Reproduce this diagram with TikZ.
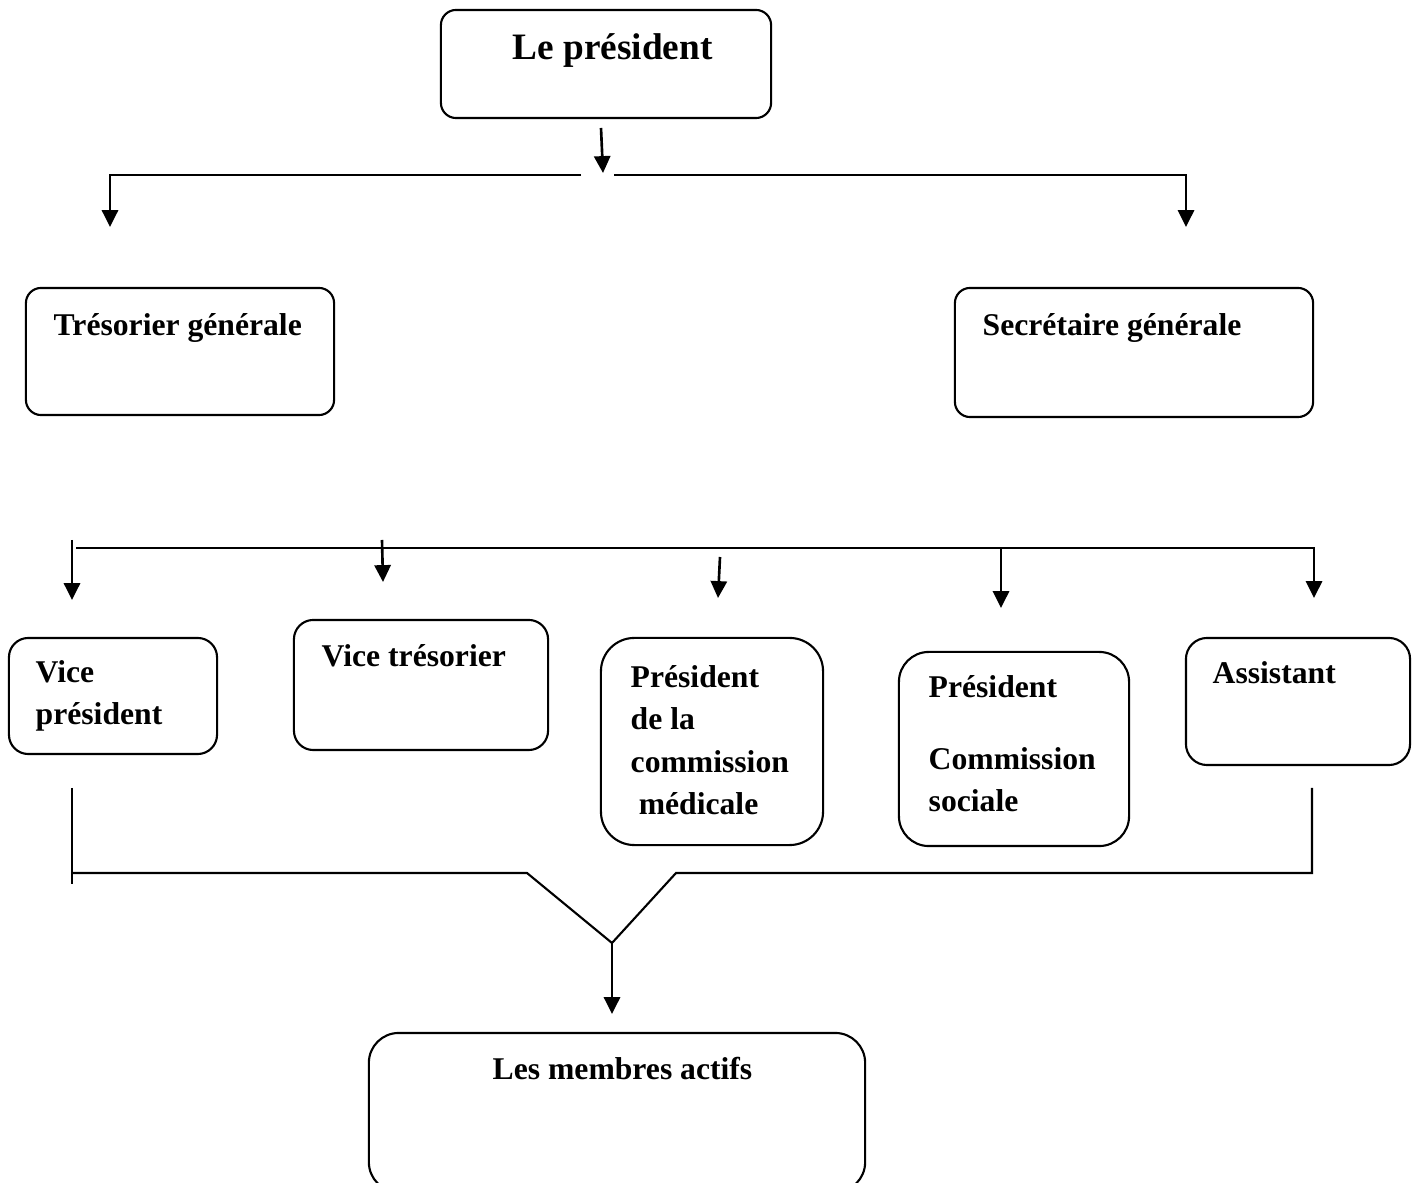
\documentclass[tikz,border=0pt]{standalone}
\usepackage{fontspec}
\setmainfont{Liberation Serif}
\usetikzlibrary{arrows.meta}

\begin{document}
\begin{tikzpicture}[x=0.01cm,y=-0.01cm,
  box/.style={draw,line width=0.6pt,rounded corners=#1,inner sep=0pt},
  lbl/.style={anchor=base west,inner sep=0pt,align=left,font=\fontsize{9}{12.1}\selectfont\bfseries},
  ln/.style={line width=0.6pt},
  arr/.style={line width=0.75pt,-{Triangle[length=4.8pt,width=4.6pt]}}]
\useasboundingbox (0,0) rectangle (1421,1183);
% boxes
\node[box=4.3pt,minimum width=3.30cm,minimum height=1.08cm] (pres) at (606,64) {};
\node[box=4.3pt,minimum width=3.08cm,minimum height=1.27cm] (tres) at (180,351.5) {};
\node[box=4.3pt,minimum width=3.58cm,minimum height=1.29cm] (secr) at (1134,352.5) {};
\node[box=5.5pt,minimum width=2.08cm,minimum height=1.16cm] (vpres) at (113,696) {};
\node[box=5.5pt,minimum width=2.54cm,minimum height=1.30cm] (vtres) at (421,685) {};
\node[box=9.5pt,minimum width=2.22cm,minimum height=2.07cm] (pmed) at (712,741.5) {};
\node[box=8.5pt,minimum width=2.30cm,minimum height=1.94cm] (psoc) at (1014,749) {};
\node[box=6pt,minimum width=2.24cm,minimum height=1.27cm] (assist) at (1298,701.5) {};
\node[box=8.5pt,minimum width=4.96cm,minimum height=1.59cm] (membres) at (617,1112.5) {};
% texts (multi-line ones sit on their last baseline)
\node[lbl,font=\fontsize{10.6}{13}\selectfont\bfseries] (presT) at (512,60) {Le président};
\node[lbl] (tresT) at (53,336) {Trésorier générale};
\node[lbl] (secrT) at (982,336) {Secrétaire générale};
\node[lbl] (vpresT) at (35,725) {Vice\\président};
\node[lbl] (vtresT) at (321,667) {Vice trésorier};
\node[lbl] (pmedT) at (630,815) {Président\\de la\\commission\\\hspace*{2.3pt}médicale};
\node[lbl] (psocT) at (928,812) {Président\\[8.5pt]Commission\\sociale};
\node[lbl] (assistT) at (1212,684) {Assistant};
\node[lbl] (membresT) at (492,1080) {Les membres actifs};
% first level
\coordinate (p0) at (601,128);
\coordinate (p1) at (603,173);
\coordinate (hL) at (581,175);
\coordinate (hR) at (614,175);
\coordinate (tresA) at (110,227);
\coordinate (secrA) at (1186,227);
\draw[arr] (p0) -- (p1);
\draw[arr] (hL) -| (tresA);
\draw[arr] (hR) -| (secrA);
% second level
\coordinate (r0) at (76,548);
\coordinate (vpres0) at (72,540);
\coordinate (vpresA) at (72,600);
\coordinate (vtres0) at (382,540);
\coordinate (vtresA) at (383,582);
\coordinate (pmed0) at (720,557);
\coordinate (pmedA) at (718,598);
\coordinate (psoc0) at (1001,548);
\coordinate (psocA) at (1001,608);
\coordinate (assistA) at (1314,598);
\draw[arr] (r0) -| (assistA);
\draw[arr] (vpres0) -- (vpresA);
\draw[arr] (vtres0) -- (vtresA);
\draw[arr] (pmed0) -- (pmedA);
\draw[arr] (psoc0) -- (psocA);
% merging lines
\coordinate (b0) at (72,788);
\coordinate (b1) at (72,884);
\coordinate (bl) at (72,873);
\coordinate (bm1) at (527,873);
\coordinate (apex) at (612,943);
\coordinate (bm2) at (676,873);
\coordinate (br) at (1312,873);
\coordinate (br0) at (1312,788);
\coordinate (membresA) at (612,1014);
\draw[ln] (b0) -- (b1);
\draw[ln] (bl) -- (bm1) -- (apex) -- (bm2) -- (br) -- (br0);
\draw[arr] (apex) -- (membresA);
\end{tikzpicture}
\end{document}
